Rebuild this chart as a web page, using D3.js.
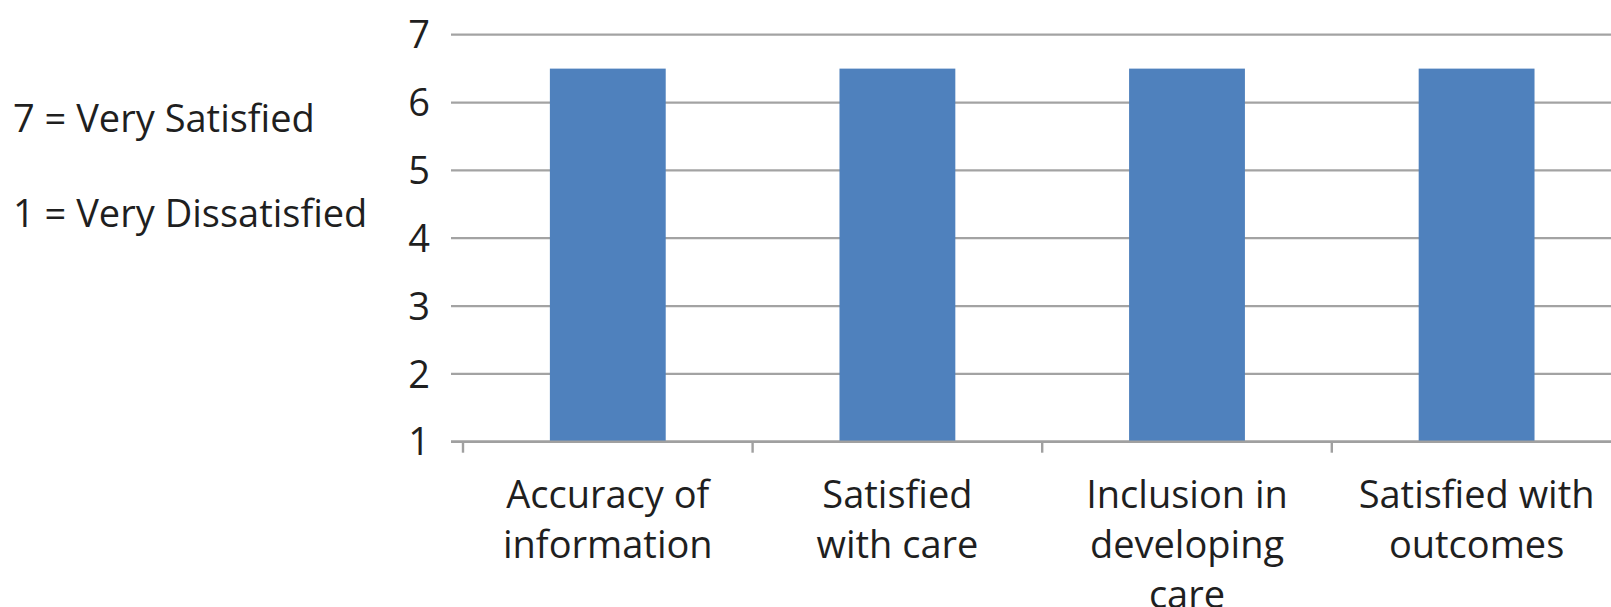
<!DOCTYPE html>
<html>
<head>
<meta charset="utf-8">
<script src="https://cdn.jsdelivr.net/npm/d3@7"></script>
<style>
  html, body { margin: 0; padding: 0; background: #fff; }
  svg { display: block; }
  text { font-family: "Open Sans", Lato, sans-serif; fill: #1f1f1f; }
</style>
</head>
<body>
<svg id="chart" width="1611" height="607"></svg>
<script>
// Mean satisfaction scores (1–7 scale)
const categories = [
  ["Accuracy of", "information"],
  ["Satisfied", "with care"],
  ["Inclusion in", "developing", "care"],
  ["Satisfied with", "outcomes"]
];
const values = [6.5, 6.5, 6.5, 6.5];
const yTicks = [1, 2, 3, 4, 5, 6, 7];
const scaleNotes = ["7 = Very Satisfied", "1 = Very Dissatisfied"];

const svg = d3.select("#chart");
const W = 1611, H = 607;
const fontSize = 38;

const keys = categories.map(c => c.join(" "));
const x = d3.scaleBand()
  .domain(keys)
  .range([463, 463 + 4 * 289.6])
  .paddingInner(0.6)
  .paddingOuter(0.3);
const y = d3.scaleLinear().domain([1, 7]).range([441.7, 34.7]);

// horizontal gridlines
svg.append("g")
  .selectAll("line")
  .data(yTicks)
  .join("line")
  .attr("x1", 451).attr("x2", W)
  .attr("y1", d => y(d)).attr("y2", d => y(d))
  .attr("stroke", "#a3a3a3")
  .attr("stroke-width", 2.2);

// value axis labels
svg.append("g")
  .selectAll("text")
  .data(yTicks)
  .join("text")
  .attr("x", 430)
  .attr("y", d => y(d))
  .attr("dy", "0.36em")
  .attr("text-anchor", "end")
  .style("font-size", fontSize + "px")
  .text(d => d);

// bars
svg.append("g")
  .selectAll("rect")
  .data(values)
  .join("rect")
  .attr("x", (d, i) => x(keys[i]))
  .attr("width", x.bandwidth())
  .attr("y", d => y(d))
  .attr("height", d => y(1) - y(d))
  .attr("fill", "#4f81bd");

// category axis line and tick marks between categories
const step = x.step();
const x0 = x.range()[0];
svg.append("line")
  .attr("x1", 451).attr("x2", W)
  .attr("y1", y(1)).attr("y2", y(1))
  .attr("stroke", "#a0a0a0").attr("stroke-width", 2.4);
svg.append("g")
  .selectAll("line")
  .data(d3.range(keys.length + 1))
  .join("line")
  .attr("x1", i => x0 + i * step).attr("x2", i => x0 + i * step)
  .attr("y1", y(1)).attr("y2", y(1) + 11)
  .attr("stroke", "#a0a0a0").attr("stroke-width", 2.4);

// category labels (wrapped)
const lab = svg.append("g")
  .selectAll("text")
  .data(categories)
  .join("text")
  .attr("text-anchor", "middle")
  .style("font-size", fontSize + "px")
  .attr("transform", (d, i) => `translate(${x(keys[i]) + x.bandwidth() / 2},0)`);
lab.selectAll("tspan")
  .data(d => d)
  .join("tspan")
  .attr("x", 0)
  .attr("y", (d, j) => 508 + j * 50)
  .text(d => d);

// scale legend on the left
svg.append("g")
  .selectAll("text")
  .data(scaleNotes)
  .join("text")
  .attr("x", 13)
  .attr("y", (d, i) => 132 + i * 95)
  .style("font-size", fontSize + "px")
  .text(d => d);
</script>
</body>
</html>
